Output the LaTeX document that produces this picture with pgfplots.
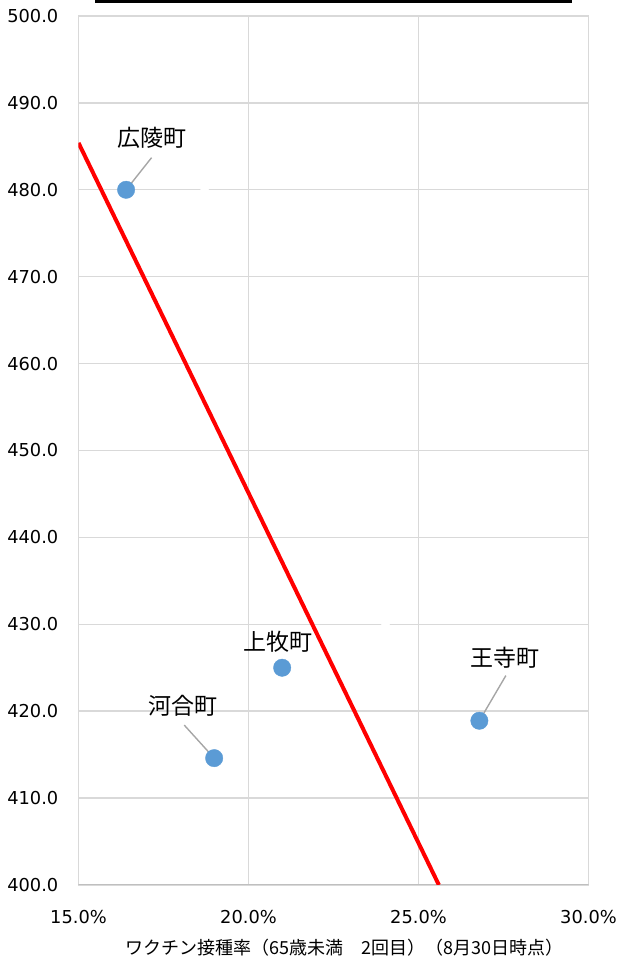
\documentclass[border=0pt]{standalone}
\usepackage{fontspec}
\setmainfont{DejaVu Sans}
\newfontfamily\jp{Noto Sans CJK JP}
\usepackage{pgfplots}
\pgfplotsset{compat=1.18}

\definecolor{gridgray}{HTML}{D9D9D9}
\definecolor{basegray}{HTML}{BFBFBF}
\definecolor{dotblue}{HTML}{5B9BD5}
\definecolor{leadergray}{HTML}{A6A6A6}
\definecolor{trendred}{HTML}{FF0000}

\begin{document}
\begin{tikzpicture}
\begin{axis}[
  at={(0,0)}, anchor=south west,
  scale only axis, width=510bp, height=869bp,
  xmin=15, xmax=30, ymin=400, ymax=500,
  xtick={15,20,25,30},
  ytick={400,410,...,500},
  grid=major,
  major grid style={gridgray, line width=1.4bp},
  axis line style={gridgray, line width=1.4bp},
  tick style={draw=none}, major tick length=0pt,
  /pgf/number format/assume math mode=true,
  yticklabel={\pgfmathprintnumber[fixed,zerofill,precision=1]{\tick}},
  xticklabel={\pgfmathprintnumber[fixed,zerofill,precision=1]{\tick}\%},
  ticklabel style={font=\fontsize{17.8bp}{20bp}\selectfont, inner sep=0pt},
  yticklabel style={anchor=east, xshift=-20bp},
  xticklabel style={anchor=north, yshift=-25bp},
  xlabel={ワクチン接種率（65歳未満　2回目）（8月30日時点）},
  xlabel style={at={(axis description cs:0.5,0)}, anchor=center,
    yshift=-63bp, xshift=11bp, font=\jp\fontsize{18bp}{20bp}\selectfont},
]
  % bottom axis line, a shade darker than the grid
  \draw[basegray, line width=1.4bp] (rel axis cs:0,0) -- (rel axis cs:1,0);

  % linear trend
  \addplot[trendred, line width=4bp] coordinates {(15,485.4) (25.60,400)};

  % hidden points, drawn in white
  \addplot[only marks, mark=*, mark size=4bp, draw=white, fill=white]
    coordinates {(18.71,480.0) (24.03,430.0)};

  % towns
  \addplot[only marks, mark=*, mark size=8.7bp,
    mark options={draw=dotblue, fill=dotblue}]
    coordinates {(16.40,480.0) (18.99,414.6) (20.99,425.0) (26.79,418.9)};

  % leader lines to the labels
  \addplot[leadergray, line width=1.4bp] coordinates {(17.15,483.7) (16.40,480.0)};
  \addplot[leadergray, line width=1.4bp] coordinates {(18.11,418.4) (18.99,414.6)};
  \addplot[leadergray, line width=1.4bp] coordinates {(27.57,424.1) (26.79,418.9)};

  \node[font=\jp\fontsize{23bp}{26bp}\selectfont] at (axis cs:17.16,486.0) {広陵町};
  \node[font=\jp\fontsize{23bp}{26bp}\selectfont] at (axis cs:18.07,420.6) {河合町};
  \node[font=\jp\fontsize{23bp}{26bp}\selectfont] at (axis cs:20.87,428.0) {上牧町};
  \node[font=\jp\fontsize{23bp}{26bp}\selectfont] at (axis cs:27.54,426.2) {王寺町};
\end{axis}
% rule along the top edge
\draw[line width=3bp, black] (16.5bp,883.5bp) -- (493.5bp,883.5bp);
\pgfresetboundingbox
\path[use as bounding box] (-78.5bp,-72bp) rectangle (541.5bp,885bp);
\end{tikzpicture}
\end{document}
